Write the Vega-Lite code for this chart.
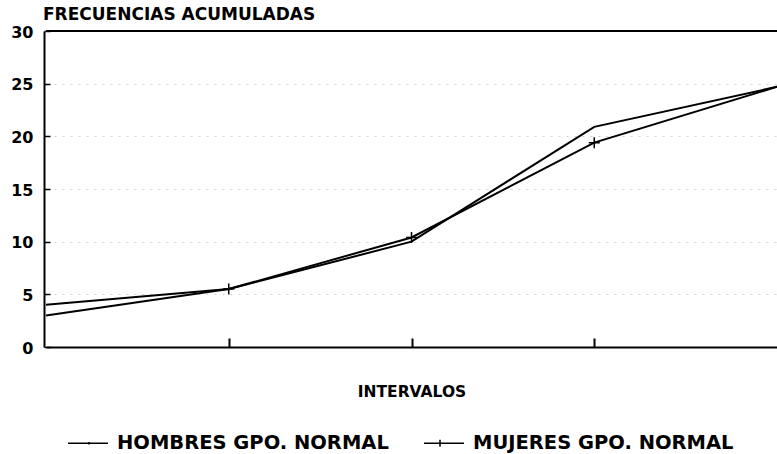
{
  "$schema": "https://vega.github.io/schema/vega-lite/v6.json",
  "width": 731,
  "height": 316,
  "autosize": {"type": "none"},
  "padding": {"left": 46, "top": 31, "right": 0, "bottom": 107},
  "background": "white",
  "config": {
    "view": {"stroke": null},
    "font": "DejaVu Sans",
    "axis": {"domainColor": "black", "tickColor": "black"}
  },
  "title": {
    "text": "FRECUENCIAS ACUMULADAS",
    "anchor": "start",
    "frame": "group",
    "dx": -3,
    "dy": 4,
    "offset": 4,
    "font": "DejaVu Sans",
    "fontSize": 17,
    "fontWeight": "bold",
    "color": "black"
  },
  "data": {
    "values": [
      {"x": 0, "v": 4.0, "serie": "HOMBRES GPO. NORMAL"},
      {"x": 1, "v": 5.5, "serie": "HOMBRES GPO. NORMAL"},
      {"x": 2, "v": 10.0, "serie": "HOMBRES GPO. NORMAL"},
      {"x": 3, "v": 20.9, "serie": "HOMBRES GPO. NORMAL"},
      {"x": 4, "v": 24.7, "serie": "HOMBRES GPO. NORMAL"},
      {"x": 0, "v": 3.0, "serie": "MUJERES GPO. NORMAL"},
      {"x": 1, "v": 5.5, "serie": "MUJERES GPO. NORMAL"},
      {"x": 2, "v": 10.4, "serie": "MUJERES GPO. NORMAL"},
      {"x": 3, "v": 19.4, "serie": "MUJERES GPO. NORMAL"},
      {"x": 4, "v": 24.7, "serie": "MUJERES GPO. NORMAL"}
    ]
  },
  "encoding": {
    "x": {
      "field": "x",
      "type": "quantitative",
      "scale": {"domain": [0, 4], "nice": false, "zero": false},
      "axis": {
        "values": [1, 2, 3],
        "labels": false,
        "grid": false,
        "tickSize": -9,
        "tickWidth": 2,
        "domainWidth": 2,
        "title": "INTERVALOS",
        "titleFont": "DejaVu Sans",
        "titleFontSize": 15.5,
        "titleFontWeight": "bold",
        "titleColor": "black",
        "titlePadding": 36
      }
    },
    "y": {
      "field": "v",
      "type": "quantitative",
      "scale": {"domain": [0, 30], "nice": false},
      "axis": {
        "values": [0, 5, 10, 15, 20, 25, 30],
        "offset": 2,
        "title": null,
        "grid": true,
        "gridColor": "#999999",
        "gridDash": [2, 6],
        "gridOpacity": 0.45,
        "tickSize": -6,
        "tickWidth": 1.5,
        "domainWidth": 2,
        "labelFont": "DejaVu Sans",
        "labelFontSize": 16,
        "labelFontWeight": "bold",
        "labelColor": "black",
        "labelPadding": 17,
        "labelBaseline": "middle",
        "labelOffset": 1
      }
    }
  },
  "layer": [
    {
      "mark": {"type": "rule", "color": "black", "strokeWidth": 2},
      "encoding": {"y": {"datum": 30}, "x": {"value": 0}, "x2": {"value": 731}}
    },
    {
      "mark": {"type": "line", "strokeWidth": 2},
      "encoding": {
        "color": {
          "field": "serie",
          "type": "nominal",
          "scale": {"range": ["black", "black"]},
          "legend": {
            "title": null,
            "orient": "none",
            "legendX": 21,
            "legendY": 391,
            "direction": "horizontal",
            "columns": 2,
            "columnPadding": 32,
            "padding": 0,
            "symbolSize": 1600,
            "symbolStrokeWidth": 1.5,
            "labelFont": "DejaVu Sans",
            "labelFontSize": 19.5,
            "labelFontWeight": "bold",
            "labelColor": "black",
            "labelOffset": 8,
            "labelLimit": 400,
            "encode": {
              "symbols": {
                "update": {
                  "shape": {"signal": "datum.value === 'MUJERES GPO. NORMAL' ? 'M-1,0H1M-0.2,-0.18V0.18' : 'M-1,0H1M0.05,-0.06V0.06'"},
                  "stroke": {"value": "black"},
                  "fill": {"value": "transparent"}
                }
              }
            }
          }
        }
      }
    },
    {
      "transform": [{"filter": "datum.serie === 'MUJERES GPO. NORMAL' && datum.x >= 1 && datum.x <= 3"}],
      "mark": {"type": "point", "shape": "M-1,0H1M0,-1V1", "size": 121, "filled": false, "strokeWidth": 1.5, "color": "black", "opacity": 1}
    }
  ]
}
